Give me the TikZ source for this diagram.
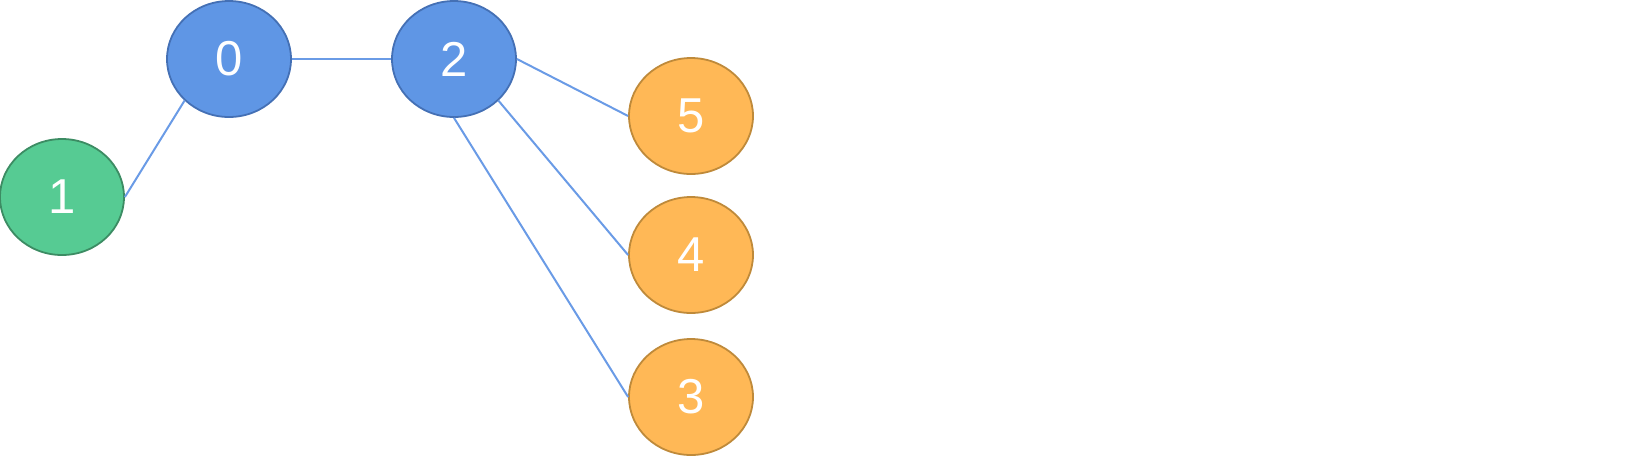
\documentclass[tikz,border=0pt]{standalone}
\usepackage{fontspec}
\setmainfont{Liberation Sans}
\usetikzlibrary{shapes.geometric}
\definecolor{bluefill}{HTML}{5F96E5}
\definecolor{bluedraw}{HTML}{4470B5}
\definecolor{greenfill}{HTML}{56CB93}
\definecolor{greendraw}{HTML}{3C8C63}
\definecolor{orangefill}{HTML}{FFB856}
\definecolor{orangedraw}{HTML}{BF8A3A}
\definecolor{edgecol}{HTML}{6A9BE6}
\begin{document}
\begin{tikzpicture}[
		x=0.5pt, y=-0.5pt,
		v/.style={ellipse, line width=0.9pt, inner sep=0pt, minimum width=62pt, minimum height=58pt, text=white, font=\fontsize{24.5}{28}\selectfont},
		b/.style={v, draw=bluedraw, fill=bluefill},
		g/.style={v, draw=greendraw, fill=greenfill},
		o/.style={v, draw=orangedraw, fill=orangefill},
		e/.style={draw=edgecol, line width=1pt}
		]
		\useasboundingbox (0,0) rectangle (1641,457);
		
		%Nodes
		\node[b]	(n0)	at (229, 59)	{0};
		\node[b]	(n2)	at (454, 59)	{2};
		\node[g]	(n1)	at (62, 197)	{1};
		\node[o]	(n5)	at (691, 116)	{5};
		\node[o]	(n4)	at (691, 255)	{4};
		\node[o]	(n3)	at (691, 397)	{3};
		
		%Lines
		\draw[e] (n1.east)			-- (n0.south west);
		\draw[e] (n0.east)			-- (n2.west);
		\draw[e] (n2.east)			-- (n5.west);
		\draw[e] (n2.south east)	-- (n4.west);
		\draw[e] (n2.south)			-- (n3.west);
		
	\end{tikzpicture}
\end{document}
